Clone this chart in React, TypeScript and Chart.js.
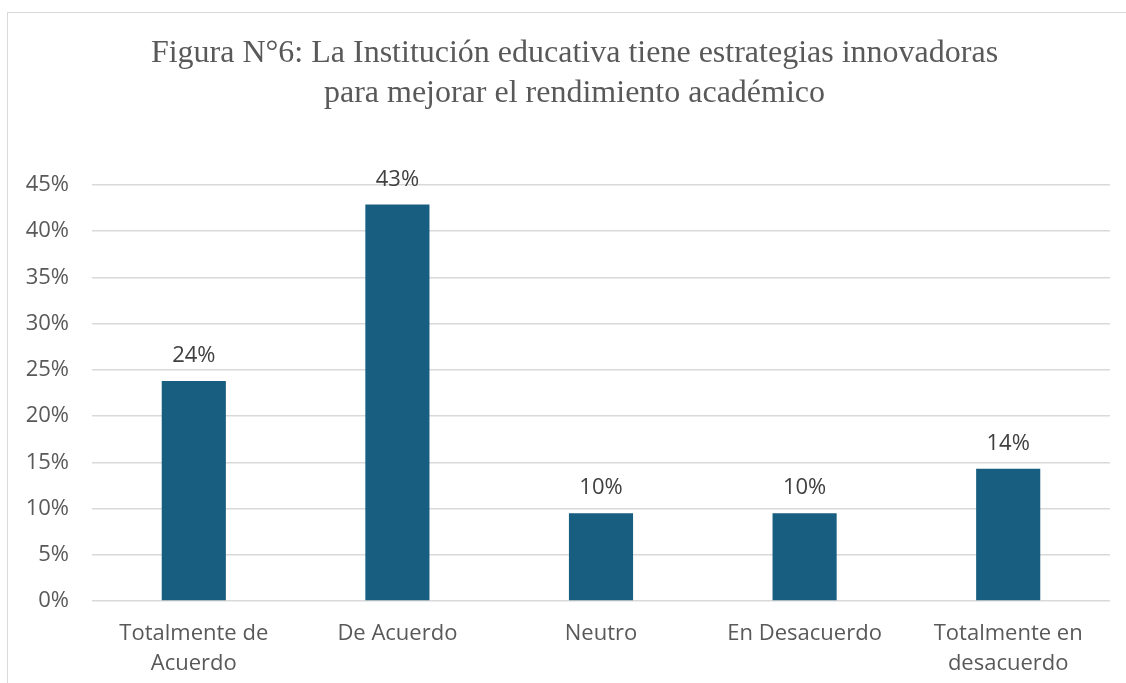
import React, { useEffect, useRef } from "react";
import { Chart, registerables } from "chart.js";

Chart.register(...registerables);

const categories: (string | string[])[] = [
  ["Totalmente de", "Acuerdo"],
  "De Acuerdo",
  "Neutro",
  "En Desacuerdo",
  ["Totalmente en", "desacuerdo"],
];
const values: number[] = [0.238, 0.429, 0.095, 0.095, 0.143];
const titleLines: string[] = [
  "Figura N°6: La Institución educativa tiene estrategias innovadoras",
  "para mejorar el rendimiento académico",
];

const SANS = "'Open Sans', 'Liberation Sans', sans-serif";

const labelPlugin = {
  id: "barLabels",
  afterDatasetsDraw(chart: any) {
    const ctx = chart.ctx;
    const meta = chart.getDatasetMeta(0);
    ctx.save();
    ctx.font = "22px " + SANS;
    ctx.fillStyle = "#404040";
    ctx.textAlign = "center";
    ctx.textBaseline = "middle";
    meta.data.forEach((bar: any, i: number) => {
      const v = values[i];
      ctx.fillText(Math.round(v * 100) + "%", bar.x, bar.y - 25);
    });
    ctx.restore();
  },
};

export default function App() {
  const ref = useRef<HTMLCanvasElement>(null);
  useEffect(() => {
    if (!ref.current) return;
    const chart = new Chart(ref.current, {
      type: "bar",
      data: {
        labels: categories,
        datasets: [
          {
            data: values,
            backgroundColor: "#185E80",
            barPercentage: 0.315,
            categoryPercentage: 1,
          },
        ],
      },
      options: {
        animation: false,
        responsive: false,
        layout: { padding: { left: 14, right: 31, top: 172, bottom: 0 } },
        plugins: {
          legend: { display: false },
          tooltip: { enabled: false },
          title: { display: false },
        },
        scales: {
          x: {
            grid: { display: false },
            border: { display: false },
            ticks: {
              color: "#595959",
              font: { family: SANS, size: 22, lineHeight: 1.36 },
              padding: 10,
              maxRotation: 0,
              autoSkip: false,
            },
            afterFit: (s: any) => {
              s.height = 110;
            },
          },
          y: {
            min: 0,
            max: 0.45,
            border: { display: false },
            grid: { color: "#D9D9D9", lineWidth: 1.5, drawTicks: false },
            ticks: {
              stepSize: 0.05,
              color: "#595959",
              font: { family: SANS, size: 22 },
              padding: 23,
              callback: (v: any) => Math.round(Number(v) * 100) + "%",
            },
            afterFit: (s: any) => {
              s.width = 70;
            },
          },
        },
      },
      plugins: [labelPlugin],
    });
    return () => chart.destroy();
  }, []);

  return (
    <div style={{ position: "fixed", inset: 0, overflow: "hidden", background: "#fff" }}>
      <div
        style={{
          position: "absolute",
          left: 7,
          top: 12,
          width: 1133,
          height: 698,
          border: "1px solid #D9D9D9",
        }}
      >
        <canvas ref={ref} width={1133} height={698} style={{ display: "block" }} />
        <div
          style={{
            position: "absolute",
            left: 0,
            top: 18,
            width: 1133,
            textAlign: "center",
            fontFamily: "'Liberation Serif', 'Times New Roman', serif",
            fontSize: 32,
            lineHeight: "40px",
            color: "#595959",
          }}
        >
          {titleLines.map((t, i) => (
            <div key={i}>{t}</div>
          ))}
        </div>
      </div>
    </div>
  );
}
